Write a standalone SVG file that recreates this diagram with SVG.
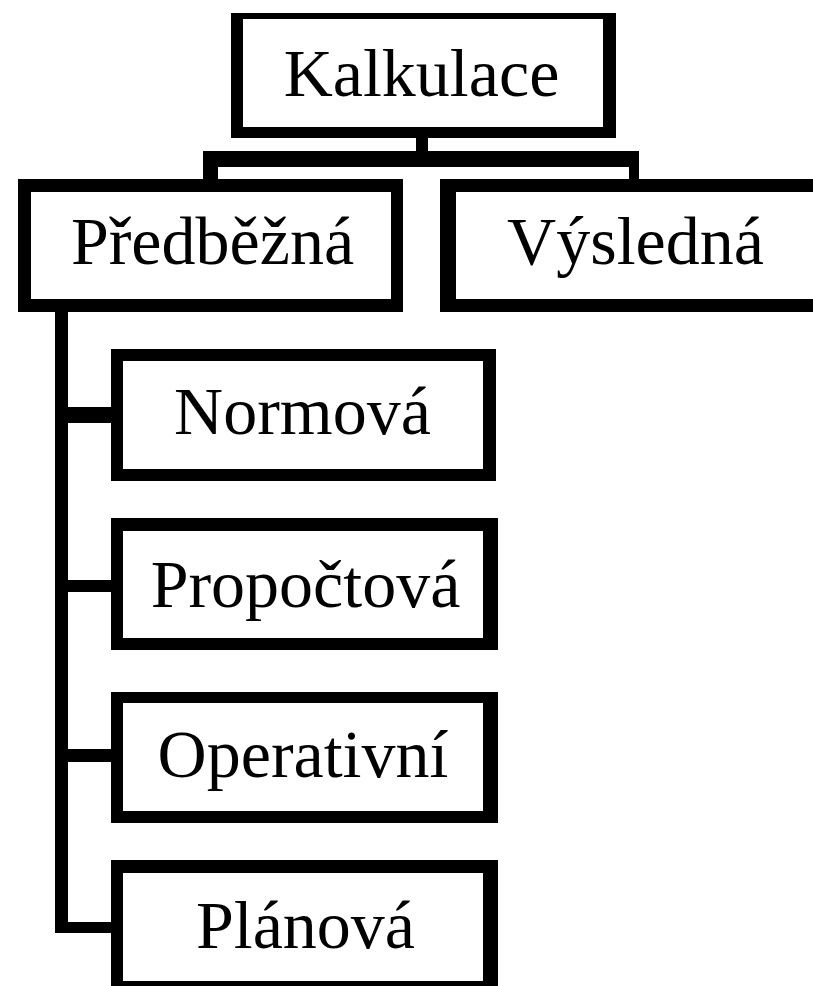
<svg xmlns="http://www.w3.org/2000/svg" width="813" height="986" viewBox="0 0 813 986">
  <style>
    .frame { fill: #000; fill-rule: evenodd; }
    .bar { fill: #000; }
    .lbl { font-family: "Liberation Serif", "Times New Roman", serif; font-size: 68px; fill: #000; text-anchor: middle; }
  </style>
  <rect x="0" y="0" width="813" height="986" fill="#fff"/>
  <g id="connectors">
    <rect class="bar" x="416" y="136" width="12" height="17"/>
    <rect class="bar" x="203" y="151" width="436" height="16"/>
    <rect class="bar" x="203" y="151" width="15" height="30"/>
    <rect class="bar" x="629" y="151" width="10" height="30"/>
    <rect class="bar" x="55" y="310" width="13" height="623"/>
    <rect class="bar" x="55" y="407" width="58" height="16"/>
    <rect class="bar" x="55" y="580" width="58" height="12"/>
    <rect class="bar" x="55" y="749" width="58" height="13"/>
    <rect class="bar" x="55" y="922" width="58" height="11"/>
  </g>
  <g id="kalkulace">
    <path class="frame" d="M231 13H616V138H231Z M243 19V127H603V19Z"/>
    <text class="lbl" x="421.5" y="96">Kalkulace</text>
  </g>
  <g id="predbezna">
    <path class="frame" d="M18 179H403V312H18Z M31 192V299H391V192Z"/>
    <text class="lbl" x="212.5" y="264">Předběžná</text>
  </g>
  <g id="vysledna">
    <path class="frame" d="M440 179H830V312H440Z M456 192V299H820V192Z"/>
    <text class="lbl" x="635.5" y="264">Výsledná</text>
  </g>
  <g id="normova">
    <path class="frame" d="M111 349H496V481H111Z M123 361V469H483V361Z"/>
    <text class="lbl" x="302.5" y="434">Normová</text>
  </g>
  <g id="propoctova">
    <path class="frame" d="M111 518H498V650H111Z M123 531V638H483V531Z"/>
    <text class="lbl" x="305.5" y="607">Propočtová</text>
  </g>
  <g id="operativni">
    <path class="frame" d="M111 692H498V823H111Z M123 703V811H483V703Z"/>
    <text class="lbl" x="303" y="777">Operativní</text>
  </g>
  <g id="planova">
    <path class="frame" d="M111 860H498V990H111Z M123 873V981H483V873Z"/>
    <text class="lbl" x="305.5" y="948">Plánová</text>
  </g>
</svg>
